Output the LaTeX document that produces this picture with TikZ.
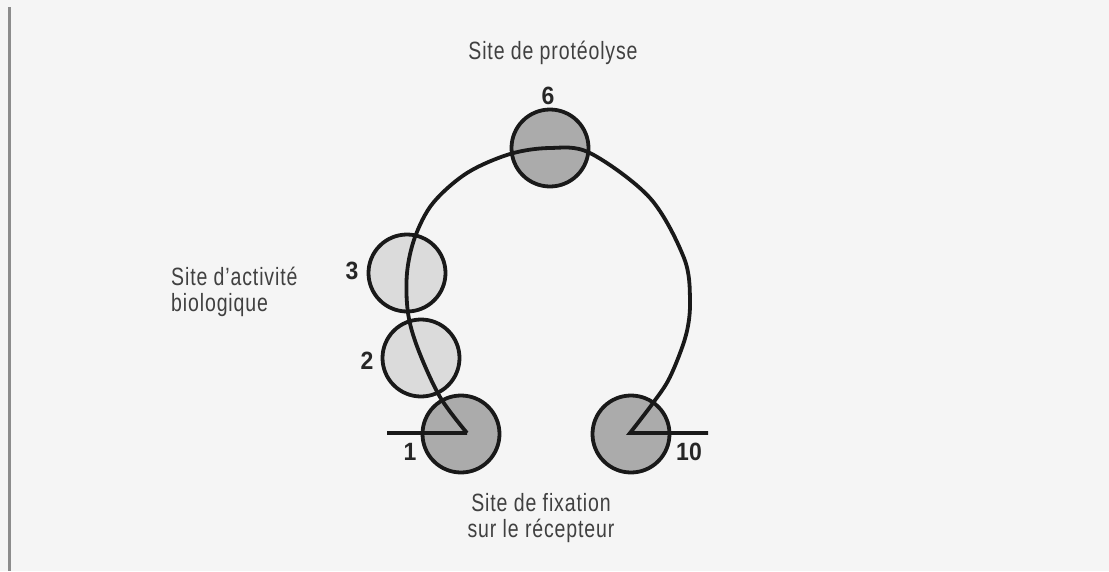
\documentclass[tikz,border=0pt]{standalone}
\usepackage{fontspec}
\setmainfont{Liberation Sans}
\newfontfamily\capfont{Liberation Sans}[FakeStretch=0.78, LetterSpace=3.5]
\newfontfamily\numfont{Liberation Sans}[FakeStretch=0.92]
\begin{document}
\begin{tikzpicture}[x=1pt,y=-1pt,
  ink/.style={draw=black!90, line width=3.8pt},
  darkdisc/.style={circle, ink, fill=black!33, minimum size=77pt, inner sep=0pt},
  lightdisc/.style={circle, ink, fill=black!14, minimum size=77pt, inner sep=0pt},
  num/.style={font=\numfont\fontsize{25}{28}\selectfont\bfseries, text=black!85, inner sep=0pt},
  caption/.style={font=\capfont\fontsize{25}{26}\selectfont, text=black!75, inner sep=0pt}]
  % page
  \fill[black!4] (0,0) rectangle (1109,571);
  \useasboundingbox (0,0) rectangle (1109,571);
  \draw[black!45, line width=3pt] (9,7) -- (9,571);

  % residue discs
  \node[darkdisc]  (c1)  at (461,434) {};
  \node[darkdisc]  (c10) at (631,434) {};
  \node[lightdisc] (c2)  at (421,358) {};
  \node[lightdisc] (c3)  at (407,273) {};
  \node[darkdisc]  (c6)  at (550,148) {};

  % chain ends and backbone
  \coordinate (v1) at (467,433);
  \coordinate (v10) at (630,433);
  \coordinate (e1) at (387,433);
  \coordinate (e10) at (708,433);
  \draw[ink, line join=miter] (e1) -- (v1)
    plot[smooth, tension=0.55] coordinates {(467,433) (440,397) (418,349) (408,313)
      (407,273) (415,237) (433,203) (467,173) (510,154) (550,148) (590,153)
      (650,198) (684,258) (690,300) (686,335) (670,377) (653,403) (630,433)}
    -- (e10);

  % residue numbers
  \node[num] (n6)  at (548,96)  {6};
  \node[num] (n3)  at (352,271) {3};
  \node[num] (n2)  at (367,361) {2};
  \node[num] (n1)  at (410,452) {1};
  \node[num] (n10) at (689,452) {10};

  % site captions
  \node[caption] (tprot) at (553,53) {Site de protéolyse};
  \node[caption, anchor=west, align=left] (tact) at (171,292)
    {Site d’activité\\biologique};
  \node[caption, align=center] (tfix) at (541,518)
    {Site de fixation\\sur le récepteur};
\end{tikzpicture}
\end{document}
